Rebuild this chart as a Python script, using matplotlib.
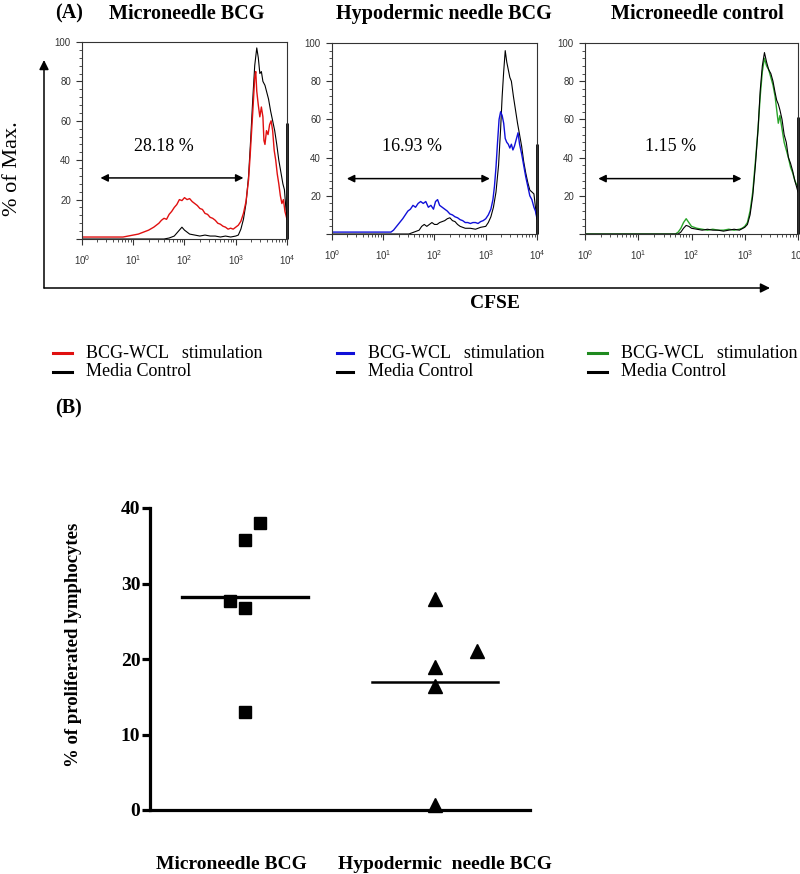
import matplotlib
matplotlib.use("Agg")
import matplotlib.pyplot as plt
import numpy as np
from matplotlib.ticker import FixedLocator, MultipleLocator, LogLocator, NullFormatter

# ---------------- data ----------------
# panel titles and gate percentages
panel_titles = ["Microneedle BCG", "Hypodermic needle BCG", "Microneedle control"]
gate_pct = ["28.18 %", "16.93 %", "1.15 %"]
stim_colors = ["#e01010", "#1010d8", "#2aa52a"]
legend_colors = ["#e01010", "#1010d8", "#1f8a1f"]

# CFSE histograms, x given as log10(intensity), y = % of max
mnb_stim_x = [0.0, 0.5, 0.8, 0.9, 1.0, 1.1, 1.2, 1.3, 1.4, 1.5, 1.55, 1.6, 1.65, 1.7, 1.75, 1.8, 1.85, 1.9,
              1.95, 2.0, 2.05, 2.1, 2.15, 2.2, 2.25, 2.3, 2.35, 2.4, 2.45, 2.5, 2.55, 2.6, 2.65, 2.7, 2.75,
              2.8, 2.85, 2.9, 2.95, 3.0, 3.05, 3.1, 3.15, 3.2, 3.25, 3.28, 3.31, 3.34, 3.37, 3.39, 3.41,
              3.44, 3.47, 3.5, 3.53, 3.55, 3.57, 3.6, 3.63, 3.66, 3.69, 3.72, 3.75, 3.78, 3.81, 3.84, 3.87,
              3.9, 3.93, 3.96, 4.0]
mnb_stim_y = [1, 1, 1, 1.5, 2, 2.5, 3.5, 4.5, 6, 8, 9.5, 10.5, 10, 12.5, 14, 16, 17.5, 20,
              19.5, 21, 20, 20.5, 19, 18, 17, 15.5, 15, 13, 12.5, 11, 10.5, 9.5, 8, 7.5, 6.5,
              6, 5, 5.5, 5, 6, 7, 9, 13, 19, 30, 42, 55, 68, 82, 85, 75,
              68, 62, 67, 62, 50, 48, 55, 53, 58, 60, 55, 45, 40, 33, 28, 22,
              18, 20, 14, 10]
mnb_ctrl_x = [0.0, 1.6, 1.7, 1.8, 1.85, 1.9, 1.95, 2.0, 2.05, 2.1, 2.2, 2.3, 2.4, 2.5, 2.6, 2.7, 2.8, 2.9,
              3.0, 3.05, 3.1, 3.15, 3.2, 3.25, 3.29, 3.33, 3.37, 3.41, 3.44, 3.47, 3.5, 3.53, 3.57, 3.6,
              3.64, 3.68, 3.72, 3.76, 3.8, 3.84, 3.88, 3.92, 3.95, 3.98, 4.0]
mnb_ctrl_y = [0, 0, 0.5, 1.5, 3, 4.5, 6, 4.5, 3.5, 2.5, 2, 1.5, 2, 1.5, 1.5, 1, 1.5, 1,
              1.5, 2, 5, 10, 18, 32, 50, 70, 88, 97, 92, 84, 85, 80, 78, 75,
              71, 65, 60, 55, 48, 40, 34, 28, 25, 15, 12]

hnb_stim_x = [0.0, 1.0, 1.15, 1.2, 1.26, 1.32, 1.38, 1.43, 1.48, 1.53, 1.58, 1.63, 1.68, 1.73, 1.78, 1.83,
              1.88, 1.93, 1.98, 2.02, 2.06, 2.1, 2.15, 2.2, 2.25, 2.3, 2.35, 2.4, 2.45, 2.5, 2.55, 2.6,
              2.65, 2.7, 2.75, 2.8, 2.85, 2.9, 2.95, 3.0, 3.05, 3.1, 3.14, 3.17, 3.2, 3.23, 3.26, 3.29,
              3.32, 3.35, 3.38, 3.41, 3.44, 3.47, 3.5, 3.53, 3.56, 3.6, 3.63, 3.66, 3.7, 3.74, 3.78,
              3.82, 3.86, 3.9, 3.94, 3.97, 4.0]
hnb_stim_y = [1, 1, 1, 2, 4, 6, 8, 10, 12, 13, 15, 14, 16, 17, 16, 17,
              14, 15, 13, 17, 18, 15, 14, 13, 12, 10.5, 10, 9, 8.5, 7.5, 7, 6,
              6, 5.5, 6, 6, 5.5, 6.5, 7, 8, 10, 13, 18, 25, 35, 48, 60, 64,
              62, 58, 50, 48, 47, 45, 47, 44, 46, 50, 53, 47, 42, 36, 30,
              25, 20, 18, 14, 12, 8]
hnb_ctrl_x = [0.0, 1.5, 1.6, 1.7, 1.75, 1.8, 1.85, 1.9, 1.95, 2.0, 2.05, 2.1, 2.15, 2.2, 2.25, 2.3, 2.35,
              2.4, 2.45, 2.5, 2.55, 2.6, 2.7, 2.8, 2.9, 3.0, 3.05, 3.1, 3.15, 3.2, 3.25, 3.29, 3.32,
              3.35, 3.38, 3.41, 3.44, 3.47, 3.5, 3.54, 3.58, 3.62, 3.66, 3.7, 3.74, 3.78, 3.82, 3.86,
              3.9, 3.94, 3.97, 4.0]
hnb_ctrl_y = [0, 0, 1, 2, 4, 5, 4, 5, 6, 5, 5, 6, 6.5, 7, 8, 8.5, 7,
              6.5, 5, 4, 3.5, 3, 3, 2.5, 3.5, 4, 6, 9, 14, 22, 36, 55, 72,
              85, 96, 90, 86, 82, 80, 72, 65, 58, 52, 46, 38, 32, 27, 23,
              22, 21, 14, 8]

mnc_stim_x = [0.0, 1.7, 1.75, 1.8, 1.85, 1.9, 1.95, 2.0, 2.1, 2.2, 2.3, 2.4, 2.5, 2.6, 2.7, 2.8, 2.9,
              2.95, 3.0, 3.05, 3.1, 3.15, 3.2, 3.25, 3.29, 3.33, 3.37, 3.41, 3.45, 3.49, 3.53, 3.57,
              3.6, 3.63, 3.66, 3.7, 3.74, 3.78, 3.82, 3.86, 3.9, 3.94, 3.97, 4.0]
mnc_stim_y = [0, 0, 1, 3, 6, 8, 6, 4, 3, 2.5, 2, 2.5, 2, 2, 2.5, 2, 2.5,
              3, 4, 6, 12, 22, 38, 55, 72, 85, 92, 88, 86, 82, 78, 72,
              65, 58, 62, 55, 48, 44, 40, 35, 32, 28, 26, 25]
mnc_ctrl_x = [0.0, 1.75, 1.8, 1.85, 1.9, 1.95, 2.0, 2.1, 2.2, 2.3, 2.4, 2.5, 2.6, 2.7, 2.8, 2.9, 3.0,
              3.05, 3.1, 3.15, 3.2, 3.25, 3.29, 3.33, 3.37, 3.41, 3.45, 3.49, 3.53, 3.57, 3.6, 3.63,
              3.66, 3.7, 3.74, 3.78, 3.82, 3.86, 3.9, 3.94, 3.97, 4.0]
mnc_ctrl_y = [0, 0, 1, 3, 4.5, 4, 3, 2.5, 2, 2.5, 2, 2, 1.5, 2, 2.5, 2, 3.5,
              5, 10, 20, 36, 55, 75, 88, 95, 90, 86, 84, 80, 74, 70, 68,
              65, 60, 52, 48, 40, 37, 33, 28, 25, 22]

# events piled up in the last channel (media control)
overflow_pct = [59, 47, 61]

# gate arrows: (start log10, end log10, height) and label position
gate_x0 = [0.36, 0.29, 0.25]
gate_x1 = [3.15, 3.08, 2.94]
gate_y = [31, 29, 29]
gate_label_x = [1.6, 1.56, 1.6]
gate_label_y = [47, 46, 46]

# panel B
groups = ["Microneedle BCG", "Hypodermic  needle BCG"]
mn_values = [38.0, 35.7, 27.7, 26.7, 13.0]
mn_offsets = [0.08, 0.0, -0.08, 0.0, 0.0]
hn_values = [28.0, 21.0, 19.0, 16.4, 0.6]
hn_offsets = [0.0, 0.22, 0.0, 0.0, 0.0]
mn_mean = 28.18
hn_mean = 16.93

# ---------------- figure ----------------
W, H = 800, 874
fig = plt.figure(figsize=(W / 100, H / 100), dpi=100)
serif = ["Liberation Serif", "DejaVu Serif"]


def box(x0, y0, x1, y1):
    # pixel box (top-left origin) -> figure fraction rect
    return [x0 / W, 1 - y1 / H, (x1 - x0) / W, (y1 - y0) / H]


def fx(x):
    return x / W


def fy(y):
    return 1 - y / H


panel_boxes = [(82, 42, 287, 239), (332, 43, 537, 234), (585, 43, 798, 234)]
stim = [(mnb_stim_x, mnb_stim_y), (hnb_stim_x, hnb_stim_y), (mnc_stim_x, mnc_stim_y)]
ctrl = [(mnb_ctrl_x, mnb_ctrl_y), (hnb_ctrl_x, hnb_ctrl_y), (mnc_ctrl_x, mnc_ctrl_y)]

for i in range(3):
    ax = fig.add_axes(box(*panel_boxes[i]))
    sx = 10 ** np.array(stim[i][0])
    cx = 10 ** np.array(ctrl[i][0])
    if i < 2:
        ax.plot(cx, ctrl[i][1], color="black", lw=0.8)
        ax.plot(sx, stim[i][1], color=stim_colors[i], lw=1.0)
    else:
        ax.plot(sx, stim[i][1], color=stim_colors[i], lw=1.0)
        ax.plot(cx, ctrl[i][1], color="black", lw=0.8)
    ax.vlines(1e4, 0, overflow_pct[i], color="black", lw=2, clip_on=False)
    ax.set_xscale("log")
    ax.set_xlim(1, 1e4)
    ax.set_ylim(0, 100)
    ax.xaxis.set_major_locator(LogLocator(base=10, numticks=6))
    ax.xaxis.set_minor_locator(LogLocator(base=10, subs=np.arange(2, 10), numticks=20))
    ax.xaxis.set_minor_formatter(NullFormatter())
    ax.yaxis.set_major_locator(FixedLocator([0, 20, 40, 60, 80, 100]))
    ax.set_yticklabels(["", "20", "40", "60", "80", "100"])
    ax.yaxis.set_minor_locator(MultipleLocator(4))
    ax.tick_params(which="major", length=4, width=0.8, labelsize=7, labelcolor="#333333",
                   pad=4, color="#333333")
    ax.tick_params(which="minor", length=2, width=0.6, color="#333333")
    ax.tick_params(axis="x", pad=6)
    for lab in ax.get_xticklabels() + ax.get_yticklabels():
        lab.set_fontfamily(["Liberation Sans", "DejaVu Sans"])
    for sp in ax.spines.values():
        sp.set_linewidth(0.8)
        sp.set_color("#333333")
    ax.annotate("", xy=(10 ** gate_x1[i], gate_y[i]), xytext=(10 ** gate_x0[i], gate_y[i]),
                arrowprops=dict(arrowstyle="<|-|>", color="black", lw=1.1, mutation_scale=11,
                                shrinkA=0, shrinkB=0))
    ax.text(10 ** gate_label_x[i], gate_label_y[i], gate_pct[i], ha="center", va="center",
            fontsize=13, family=serif)

# panel titles
title_cx = [187, 444, 697]
for i in range(3):
    fig.text(fx(title_cx[i]), fy(14), panel_titles[i], ha="center", va="center",
             fontsize=14.5, fontweight="bold", family=serif)
fig.text(fx(55), fy(13), "(A)", ha="left", va="center", fontsize=14.5, fontweight="bold", family=serif)

# outer axes arrows
arrow_kw = dict(arrowstyle="-|>", color="black", lw=1.1, mutation_scale=14, shrinkA=0, shrinkB=0)
fig.add_artist(matplotlib.patches.FancyArrowPatch((fx(44), fy(288)), (fx(44), fy(60)),
                                                  transform=fig.transFigure, **arrow_kw))
fig.add_artist(matplotlib.patches.FancyArrowPatch((fx(44), fy(288)), (fx(770), fy(288)),
                                                  transform=fig.transFigure, **arrow_kw))
fig.text(fx(13), fy(169), "% of Max.", rotation=90, ha="center", va="center", fontsize=16, family=serif)
fig.text(fx(495), fy(303), "CFSE", ha="center", va="center", fontsize=14, fontweight="bold", family=serif)

# legends
leg_line_x = [(53, 72), (337, 353), (588, 607)]
leg_text_x = [86, 368, 621]
for i in range(3):
    for row, (lab, col) in enumerate([("BCG-WCL   stimulation", legend_colors[i]), ("Media Control", "black")]):
        yy = 353 + 19 * row
        fig.add_artist(matplotlib.lines.Line2D([fx(leg_line_x[i][0]), fx(leg_line_x[i][1])], [fy(yy), fy(yy)],
                                               color=col, lw=2.2, transform=fig.transFigure))
        fig.text(fx(leg_text_x[i]), fy(yy), lab, ha="left", va="center", fontsize=13, family=serif)

# ---------------- panel B ----------------
fig.text(fx(55), fy(408), "(B)", ha="left", va="center", fontsize=14.5, fontweight="bold", family=serif)
axb = fig.add_axes(box(150, 508, 530, 810))
axb.plot(1 + np.array(mn_offsets), mn_values, "s", color="black", ms=8.5, clip_on=False)
axb.plot(2 + np.array(hn_offsets), hn_values, "^", color="black", ms=9.5, clip_on=False)
axb.plot([1 - 0.33, 1 + 0.33], [mn_mean, mn_mean], color="black", lw=2.4)
axb.plot([2 - 0.33, 2 + 0.33], [hn_mean, hn_mean], color="black", lw=1.8)
axb.set_xlim(0.5, 2.5)
axb.set_ylim(0, 40)
axb.set_yticks([0, 10, 20, 30, 40])
axb.set_xticks([])
for s in ["top", "right"]:
    axb.spines[s].set_visible(False)
for s in ["left", "bottom"]:
    axb.spines[s].set_linewidth(2.3)
axb.tick_params(axis="y", length=6, width=2.3, labelsize=14, pad=1)
for lab in axb.get_yticklabels():
    lab.set_fontfamily(serif)
    lab.set_fontweight("bold")
group_label_x = [0.926, 2.05]
for gx, g in zip(group_label_x, groups):
    axb.text(gx, -0.179, g, transform=axb.get_xaxis_transform(), ha="center", va="center",
             fontsize=14, fontweight="bold", family=serif)
fig.text(fx(74), fy(645), "% of proliferated lymphocytes", rotation=90, ha="center", va="center",
         fontsize=13.5, fontweight="bold", family=serif)

fig.savefig("out.png", dpi=100)
